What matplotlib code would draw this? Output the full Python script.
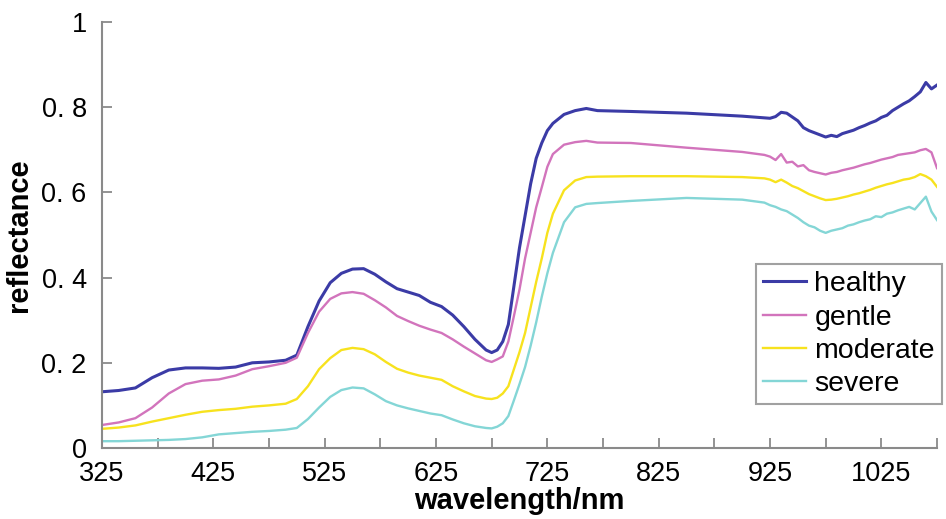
import numpy as np
import matplotlib.pyplot as plt

plt.rcParams['font.family'] = ['Liberation Sans', 'DejaVu Sans']

# wavelength grid (nm) and reflectance
wavelength = [325, 340, 355, 370, 385, 400, 415, 430, 445, 460, 475, 490, 500, 510,
              520, 530, 540, 550, 560, 570, 580, 590, 600, 610, 620, 630, 640, 650,
              660, 670, 675, 680, 685, 690, 695, 700, 705, 710, 715, 720, 725, 730,
              740, 750, 760, 770, 800, 850, 900,
              920, 925, 930, 935, 940, 945, 950, 955, 960, 965, 970, 975, 980, 985,
              990, 995, 1000, 1005, 1010, 1015, 1020, 1025, 1030, 1035, 1040, 1045,
              1050, 1055, 1060, 1065, 1070, 1075]

healthy = [0.132, 0.135, 0.141, 0.165, 0.183, 0.188, 0.188, 0.187, 0.190, 0.200, 0.202,
           0.206, 0.218, 0.285, 0.345, 0.388, 0.410, 0.420, 0.421, 0.408, 0.390, 0.374,
           0.366, 0.358, 0.342, 0.332, 0.312, 0.285, 0.255, 0.230, 0.224, 0.230, 0.250,
           0.290, 0.380, 0.470, 0.545, 0.620, 0.680, 0.716, 0.745, 0.762, 0.783, 0.792,
           0.797, 0.792, 0.790, 0.786, 0.779,
           0.775, 0.774, 0.778, 0.788, 0.786, 0.777, 0.768, 0.752, 0.745, 0.740, 0.735,
           0.730, 0.734, 0.731, 0.738, 0.742, 0.746, 0.752, 0.757, 0.763, 0.768, 0.776,
           0.781, 0.792, 0.800, 0.808, 0.815, 0.825, 0.836, 0.858, 0.843, 0.852]

gentle = [0.054, 0.060, 0.070, 0.095, 0.128, 0.150, 0.158, 0.161, 0.170, 0.185, 0.192,
          0.200, 0.212, 0.270, 0.320, 0.350, 0.363, 0.366, 0.362, 0.347, 0.330, 0.310,
          0.298, 0.287, 0.278, 0.270, 0.255, 0.238, 0.222, 0.206, 0.202, 0.208, 0.215,
          0.250, 0.310, 0.372, 0.445, 0.505, 0.565, 0.612, 0.660, 0.690, 0.712, 0.718,
          0.721, 0.717, 0.716, 0.705, 0.695,
          0.688, 0.684, 0.676, 0.690, 0.670, 0.672, 0.661, 0.664, 0.652, 0.648, 0.645,
          0.642, 0.646, 0.648, 0.652, 0.655, 0.658, 0.662, 0.666, 0.669, 0.673, 0.677,
          0.680, 0.683, 0.688, 0.690, 0.692, 0.694, 0.699, 0.702, 0.694, 0.657]

moderate = [0.045, 0.048, 0.053, 0.062, 0.070, 0.078, 0.085, 0.089, 0.092, 0.097, 0.100,
            0.104, 0.115, 0.145, 0.185, 0.211, 0.230, 0.235, 0.232, 0.220, 0.202, 0.186,
            0.177, 0.170, 0.165, 0.160, 0.145, 0.133, 0.122, 0.116, 0.115, 0.118, 0.128,
            0.145, 0.185, 0.225, 0.270, 0.330, 0.390, 0.445, 0.505, 0.550, 0.605, 0.628,
            0.636, 0.637, 0.638, 0.638, 0.636,
            0.633, 0.630, 0.624, 0.630, 0.623, 0.615, 0.610, 0.603, 0.596, 0.591, 0.586,
            0.582, 0.583, 0.585, 0.588, 0.591, 0.595, 0.598, 0.602, 0.606, 0.611, 0.615,
            0.619, 0.622, 0.626, 0.630, 0.632, 0.636, 0.643, 0.638, 0.630, 0.613]

severe = [0.016, 0.016, 0.017, 0.018, 0.019, 0.021, 0.025, 0.032, 0.035, 0.038, 0.040,
          0.043, 0.047, 0.068, 0.095, 0.120, 0.136, 0.142, 0.140, 0.126, 0.110, 0.100,
          0.093, 0.087, 0.081, 0.077, 0.067, 0.058, 0.051, 0.047, 0.046, 0.050, 0.058,
          0.075, 0.112, 0.150, 0.190, 0.240, 0.295, 0.355, 0.410, 0.458, 0.530, 0.565,
          0.573, 0.575, 0.580, 0.587, 0.583,
          0.576, 0.570, 0.566, 0.560, 0.556, 0.548, 0.540, 0.530, 0.522, 0.518, 0.510,
          0.505, 0.510, 0.513, 0.516, 0.522, 0.525, 0.530, 0.534, 0.537, 0.544, 0.542,
          0.550, 0.553, 0.558, 0.562, 0.566, 0.560, 0.575, 0.590, 0.555, 0.535]

names = ['healthy', 'gentle', 'moderate', 'severe']
colors = ['#3b3ba6', '#d274bc', '#f7e21e', '#84d6d6']
widths = [2.2, 1.7, 1.7, 1.7]

x_major = np.arange(325, 1076, 50)
x_labels = [str(v) if (v - 325) % 100 == 0 and v < 1075 else '' for v in x_major]
y_ticks = [0, 0.2, 0.4, 0.6, 0.8, 1.0]
y_labels = ['0', '0. 2', '0. 4', '0. 6', '0. 8', '1']

fig = plt.figure(figsize=(9.46, 5.19), dpi=100)
ax = fig.add_axes([0.1078, 0.1368, 0.8827, 0.8208])

for ys, nm, c, lw in zip([healthy, gentle, moderate, severe], names, colors, widths):
    ax.plot(wavelength, ys, color=c, lw=lw, label=nm)

ax.set_xlim(325, 1075)
ax.set_ylim(0, 1)
ax.set_xticks(x_major)
ax.set_xticklabels(x_labels)
ax.set_yticks(y_ticks)
ax.set_yticklabels(y_labels)

for s in ['top', 'right']:
    ax.spines[s].set_visible(False)
for s in ['left', 'bottom']:
    ax.spines[s].set_color('#8a8a8a')
    ax.spines[s].set_linewidth(1.5)

ax.tick_params(axis='x', direction='in', length=7, width=1.3, color='#8a8a8a',
               labelsize=19.5, pad=9)
ax.tick_params(axis='y', direction='in', length=7, width=1.3, color='#8a8a8a',
               labelsize=19.5, pad=11)

ax.set_xlabel('wavelength/nm', fontsize=21, fontweight='bold', labelpad=0)
ax.set_ylabel('reflectance', fontsize=21, fontweight='bold')
ax.yaxis.set_label_coords(-0.083, 0.5)

leg = ax.legend(loc='upper left', bbox_to_anchor=(756 / 946, 1 - 264 / 519),
                bbox_transform=fig.transFigure, fontsize=20.5, frameon=True,
                fancybox=False, borderaxespad=0, borderpad=0.25, labelspacing=0.26,
                handlelength=1.5, handletextpad=0.3)
leg.get_frame().set_edgecolor('#8a8a8a')
leg.get_frame().set_linewidth(1.5)

fig.savefig('out.png', dpi=100)
